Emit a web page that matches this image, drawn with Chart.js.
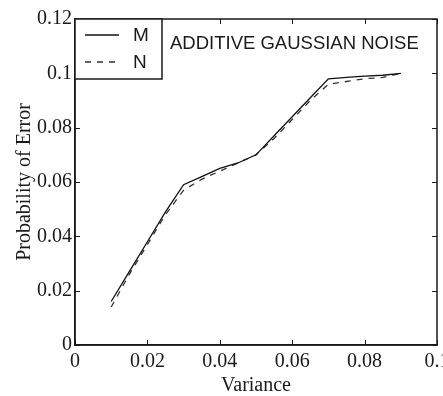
<!DOCTYPE html>
<html>
<head>
<meta charset="utf-8">
<script src="https://cdn.jsdelivr.net/npm/chart.js@4/dist/chart.umd.min.js"></script>
<style>
html,body{margin:0;padding:0;background:#fff;}
canvas{display:block;}
</style>
</head>
<body>
<canvas id="c" width="443" height="396"></canvas>
<script>
const variance = [0.01, 0.015, 0.02, 0.025, 0.03, 0.035, 0.04, 0.045, 0.05, 0.055, 0.06, 0.065, 0.07, 0.075, 0.08, 0.085, 0.09];
const seriesM = [0.016, 0.027, 0.038, 0.049, 0.059, 0.062, 0.065, 0.067, 0.070, 0.077, 0.084, 0.091, 0.098, 0.0985, 0.099, 0.0993, 0.100];
const seriesN = [0.014, 0.026, 0.037, 0.048, 0.057, 0.061, 0.064, 0.067, 0.070, 0.076, 0.083, 0.090, 0.096, 0.097, 0.098, 0.0985, 0.100];
const seriesNames = ['M', 'N'];
const xTickValues = [0, 0.02, 0.04, 0.06, 0.08, 0.1];
const xTickLabels = ['0', '0.02', '0.04', '0.06', '0.08', '0.1'];
const yTickValues = [0, 0.02, 0.04, 0.06, 0.08, 0.1, 0.12];
const yTickLabels = ['0', '0.02', '0.04', '0.06', '0.08', '0.1', '0.12'];
const chartTitle = 'ADDITIVE GAUSSIAN NOISE';
const xTitle = 'Variance';
const yTitle = 'Probability of Error';

const SERIF = '"Liberation Serif", "Times New Roman", serif';
const SANS = '"Liberation Sans", Arial, sans-serif';
const INK = '#1a1a1a';

function labelFor(values, labels, v) {
  for (let i = 0; i < values.length; i++) if (Math.abs(values[i] - v) < 1e-9) return labels[i];
  return '';
}

const boxPlugin = {
  id: 'boxPlugin',
  afterDraw(chart) {
    const ctx = chart.ctx, a = chart.chartArea;
    const xs = chart.scales.x, ys = chart.scales.y;
    ctx.save();
    ctx.strokeStyle = INK;
    ctx.lineWidth = 1.5;
    ctx.strokeRect(a.left, a.top, a.right - a.left, a.bottom - a.top);
    ctx.lineWidth = 1;
    const L = 5;
    xTickValues.forEach(v => {
      const px = Math.round(xs.getPixelForValue(v)) + 0.5;
      ctx.beginPath();
      ctx.moveTo(px, a.bottom); ctx.lineTo(px, a.bottom - L);
      ctx.moveTo(px, a.top); ctx.lineTo(px, a.top + L);
      ctx.stroke();
    });
    yTickValues.forEach(v => {
      const py = Math.round(ys.getPixelForValue(v)) + 0.5;
      ctx.beginPath();
      ctx.moveTo(a.left, py); ctx.lineTo(a.left + L, py);
      ctx.moveTo(a.right, py); ctx.lineTo(a.right - L, py);
      ctx.stroke();
    });
    // legend box
    const lx = a.left, ly = a.top, lw = 87, lh = 60;
    ctx.fillStyle = '#fff';
    ctx.fillRect(lx, ly, lw, lh);
    ctx.lineWidth = 1.5;
    ctx.strokeRect(lx, ly, lw, lh);
    const ds = chart.data.datasets;
    const rows = [16, 43];
    ds.forEach((d, i) => {
      ctx.beginPath();
      ctx.lineWidth = 1.3;
      ctx.strokeStyle = d.borderColor;
      ctx.setLineDash(d.borderDash || []);
      ctx.moveTo(lx + 10, ly + rows[i]);
      ctx.lineTo(lx + 44, ly + rows[i]);
      ctx.stroke();
      ctx.setLineDash([]);
      ctx.fillStyle = INK;
      ctx.font = '19px ' + SANS;
      ctx.textBaseline = 'middle';
      ctx.textAlign = 'left';
      ctx.fillText(d.label, lx + 58, ly + rows[i] + 1);
    });
    // title
    ctx.fillStyle = INK;
    ctx.font = '18.5px ' + SANS;
    ctx.textBaseline = 'middle';
    ctx.textAlign = 'left';
    ctx.fillText(chartTitle, a.left + 95, a.top + 25);
    ctx.restore();
  }
};

new Chart(document.getElementById('c'), {
  type: 'line',
  data: {
    datasets: [
      {
        label: seriesNames[0],
        data: variance.map((x, i) => ({x: x, y: seriesM[i]})),
        borderColor: '#111',
        borderWidth: 1.3,
        pointRadius: 0,
        tension: 0,
        fill: false
      },
      {
        label: seriesNames[1],
        data: variance.map((x, i) => ({x: x, y: seriesN[i]})),
        borderColor: '#333',
        borderWidth: 1.3,
        borderDash: [6, 6],
        pointRadius: 0,
        tension: 0,
        fill: false
      }
    ]
  },
  options: {
    responsive: false,
    animation: false,
    devicePixelRatio: 1,
    layout: {padding: {top: 19, right: 6, left: 0, bottom: 0}},
    plugins: {legend: {display: false}, tooltip: {enabled: false}, title: {display: false}},
    scales: {
      x: {
        type: 'linear',
        min: 0, max: 0.1,
        afterBuildTicks(scale) { scale.ticks = xTickValues.map(v => ({value: v})); },
        ticks: {
          callback: v => labelFor(xTickValues, xTickLabels, v),
          font: {family: SERIF, size: 20},
          color: INK,
          padding: 5,
          maxRotation: 0,
          autoSkip: false
        },
        grid: {drawOnChartArea: false, drawTicks: false},
        border: {display: true, color: INK, width: 1.5},
        title: {display: true, text: xTitle, font: {family: SERIF, size: 20, lineHeight: 1}, color: INK, padding: {top: 0, bottom: 0}},
        afterFit(scale) { scale.height = 51; scale.paddingLeft = 0; scale.paddingRight = 0; }
      },
      y: {
        type: 'linear',
        min: 0, max: 0.12,
        afterBuildTicks(scale) { scale.ticks = yTickValues.map(v => ({value: v})); },
        ticks: {
          callback: v => labelFor(yTickValues, yTickLabels, v),
          font: {family: SERIF, size: 20},
          color: INK,
          padding: 3,
          autoSkip: false
        },
        grid: {drawOnChartArea: false, drawTicks: false},
        border: {display: true, color: INK, width: 1.5},
        title: {display: true, text: yTitle, font: {family: SERIF, size: 20, lineHeight: 1}, color: INK, padding: {top: 15, bottom: 0}},
        afterFit(scale) { scale.width = 75; scale.paddingTop = 0; scale.paddingBottom = 0; }
      }
    }
  },
  plugins: [boxPlugin]
});
</script>
</body>
</html>
